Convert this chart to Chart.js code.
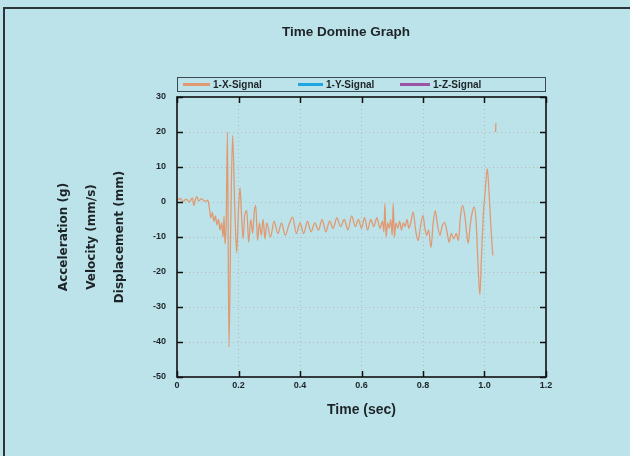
<!DOCTYPE html>
<html>
<head>
<meta charset="utf-8">
<script src="https://cdn.jsdelivr.net/npm/chart.js@4.4.1/dist/chart.umd.min.js"></script>
<style>
  html, body { margin:0; padding:0; background:#bde3ea; }
  #wrap { position:relative; width:630px; height:456px; overflow:hidden; }
  #frame { position:absolute; left:3px; top:7px; right:-4px; bottom:-4px;
           border-left:2px solid #2b3436; border-top:2px solid #2b3436; }
  canvas { position:absolute; left:0; top:0; }
</style>
</head>
<body>
<div id="wrap">
  <div id="frame"></div>
  <canvas id="chart" width="630" height="456"></canvas>
</div>
<script>
const CHART_TITLE = 'Time Domine Graph';
const X_TITLE = 'Time (sec)';
const Y_TITLE = ['Acceleration (g)', 'Velocity (mm/s)', 'Displacement (mm)'];
const SERIES_NAMES = ['1-X-Signal', '1-Y-Signal', '1-Z-Signal'];
const SERIES_COLORS = ['#e09a72', '#1ea6e0', '#9a55a6'];

// time axis (sec) and the X signal
const timeSec = [
  0.000,0.010,0.020,0.030,0.040,0.050,0.055,0.060,
  0.065,0.070,0.080,0.090,0.100,0.105,0.110,0.115,
  0.120,0.125,0.130,0.135,0.140,0.145,0.150,0.153,
  0.156,0.160,0.164,0.169,0.175,0.181,0.188,0.194,
  0.200,0.205,0.210,0.215,0.220,0.227,0.233,0.240,
  0.246,0.251,0.256,0.262,0.268,0.274,0.280,0.286,
  0.292,0.304,0.316,0.328,0.340,0.352,0.364,0.376,
  0.388,0.400,0.412,0.424,0.436,0.448,0.460,0.472,
  0.484,0.496,0.508,0.520,0.532,0.544,0.556,0.568,
  0.580,0.590,0.600,0.610,0.620,0.630,0.640,0.650,
  0.660,0.668,0.673,0.676,0.680,0.685,0.690,0.695,
  0.700,0.703,0.707,0.712,0.718,0.724,0.730,0.736,
  0.742,0.748,0.754,0.760,0.768,0.776,0.784,0.792,
  0.800,0.806,0.812,0.818,0.826,0.833,0.840,0.847,
  0.855,0.862,0.870,0.878,0.885,0.892,0.900,0.908,
  0.915,0.922,0.929,0.936,0.942,0.947,0.953,0.960,
  0.967,0.973,0.979,0.985,0.990,0.996,1.003,1.009,
  1.014,1.020,1.027,1.031,1.036,1.037
];
const xSignal = [
  0.5,1.0,0.2,0.8,0.0,1.2,-1.0,0.8,
  1.5,0.3,0.9,0.2,0.5,-1.5,-4.5,-3.0,
  -5.5,-4.0,-6.5,-5.0,-8.0,-6.0,-10.0,-4.0,
  -12.0,-6.0,20.0,-41.5,-5.0,19.0,-2.0,-14.5,
  -2.0,4.0,-4.0,-10.5,-4.0,-2.5,-11.5,-5.0,
  -9.0,-3.0,-1.0,-11.0,-6.0,-9.5,-5.0,-10.5,
  -6.0,-10.0,-5.5,-9.0,-6.0,-9.5,-6.5,-4.3,
  -9.0,-6.0,-9.0,-5.5,-8.5,-6.0,-8.0,-5.0,
  -8.5,-5.5,-7.5,-4.5,-7.0,-5.0,-8.0,-4.0,
  -7.0,-5.0,-7.5,-4.5,-8.0,-5.0,-7.0,-4.5,
  -7.5,-5.5,-8.5,-0.5,-10.0,-6.0,-7.5,-5.0,
  -9.5,-0.5,-10.0,-6.0,-7.5,-5.5,-8.0,-6.0,
  -7.0,-5.0,-7.5,-6.0,-2.8,-8.0,-11.0,-7.0,
  -3.8,-7.5,-9.5,-8.0,-13.0,-6.0,-2.5,-6.5,
  -9.5,-7.0,-5.8,-8.5,-11.5,-9.0,-10.5,-9.0,
  -11.0,-4.0,-1.0,-4.0,-9.0,-11.8,-7.0,-3.0,
  -1.5,-6.0,-18.0,-26.5,-16.0,-4.0,4.0,9.5,
  4.0,-6.0,-15.3,null,20.0,22.5
];
const ySignal = [];
const zSignal = [];

const xTicks = { min:0, max:1.2, step:0.2 };
const yTicks = { min:-50, max:30, step:10 };

const FONT = "'Liberation Sans', Arial, sans-serif";
const WIDE = "'DejaVu Sans', Verdana, sans-serif";

const framePlugin = {
  id: 'frame',
  afterDatasetsDraw(chart){
    const {ctx, chartArea:a, scales} = chart;
    ctx.save();
    ctx.strokeStyle = '#111';
    ctx.lineWidth = 1.5;
    ctx.beginPath();
    scales.y.ticks.forEach(t => {
      const py = Math.round(scales.y.getPixelForValue(t.value)) + 0.5;
      ctx.moveTo(a.left, py); ctx.lineTo(a.left + 6, py);
      ctx.moveTo(a.right, py); ctx.lineTo(a.right - 6, py);
    });
    scales.x.ticks.forEach(t => {
      const px = Math.round(scales.x.getPixelForValue(t.value)) + 0.5;
      ctx.moveTo(px, a.bottom); ctx.lineTo(px, a.bottom - 6);
      ctx.moveTo(px, a.top); ctx.lineTo(px, a.top + 6);
    });
    ctx.stroke();
    ctx.lineWidth = 1.6;
    ctx.strokeRect(a.left, a.top, a.right - a.left, a.bottom - a.top);
    ctx.restore();
  },
  afterDraw(chart){
    const {ctx, chartArea:a} = chart;
    ctx.save();
    // main title
    ctx.fillStyle = '#1d2427';
    ctx.font = 'bold 13.5px ' + FONT;
    ctx.textAlign = 'center';
    ctx.textBaseline = 'middle';
    ctx.fillText(CHART_TITLE, 346, 32);
    // legend box
    const top = 77, h = 14;
    ctx.strokeStyle = '#3a4a50';
    ctx.lineWidth = 1;
    ctx.strokeRect(a.left + 0.5, top + 0.5, a.right - a.left - 1, h);
    const starts = [183, 298, 400];
    const lens = [27, 25, 30];
    ctx.font = 'bold 10px ' + FONT;
    ctx.textAlign = 'left';
    chart.data.datasets.forEach((ds, i) => {
      const x0 = starts[i], cy = top + h / 2 + 0.5;
      ctx.strokeStyle = ds.borderColor;
      ctx.lineWidth = 3;
      ctx.beginPath(); ctx.moveTo(x0, cy); ctx.lineTo(x0 + lens[i], cy); ctx.stroke();
      ctx.fillStyle = '#1d2427';
      ctx.fillText(ds.label, x0 + lens[i] + 3, cy + 0.5);
    });
    ctx.restore();
  }
};

const pts = timeSec.map((t, i) => ({ x: t, y: xSignal[i] }));

new Chart(document.getElementById('chart'), {
  type: 'line',
  data: {
    datasets: [
      { label: SERIES_NAMES[0], data: pts, borderColor: SERIES_COLORS[0], borderWidth: 1.3,
        pointRadius: 0, cubicInterpolationMode: 'monotone', spanGaps: false },
      { label: SERIES_NAMES[1], data: ySignal, borderColor: SERIES_COLORS[1], borderWidth: 1, pointRadius: 0 },
      { label: SERIES_NAMES[2], data: zSignal, borderColor: SERIES_COLORS[2], borderWidth: 1, pointRadius: 0 }
    ]
  },
  options: {
    responsive: false,
    animation: false,
    layout: { padding: { left: 50, top: 97, right: 84, bottom: 30 } },
    plugins: { legend: { display: false }, tooltip: { enabled: false }, title: { display: false } },
    scales: {
      x: {
        type: 'linear', min: xTicks.min, max: xTicks.max,
        afterFit: s => { s.height = 49; },
        ticks: { stepSize: xTicks.step, padding: 3, color: '#1d2427',
                 font: { family: FONT, size: 9, weight: 'bold' },
                 callback: v => v === 0 ? '0' : v.toFixed(1) },
        grid: { color: '#b9b9b9', drawTicks: false, lineWidth: 1 },
        border: { display: false, dash: [1, 3] },
        title: { display: true, text: X_TITLE, color: '#1d2427', padding: { top: 0, bottom: 7 },
                 font: { family: FONT, size: 14, weight: 'bold' } }
      },
      y: {
        min: yTicks.min, max: yTicks.max,
        afterFit: s => { s.width = 127; },
        ticks: { stepSize: yTicks.step, padding: 11, color: '#1d2427',
                 font: { family: FONT, size: 9, weight: 'bold' } },
        grid: { color: '#b9b9b9', drawTicks: false, lineWidth: 1 },
        border: { display: false, dash: [1, 3] },
        title: { display: true, text: Y_TITLE, color: '#1d2427', padding: 0,
                 font: { family: WIDE, size: 12, weight: 'bold', lineHeight: 2.33 } }
      }
    }
  },
  plugins: [framePlugin]
});
</script>
</body>
</html>
